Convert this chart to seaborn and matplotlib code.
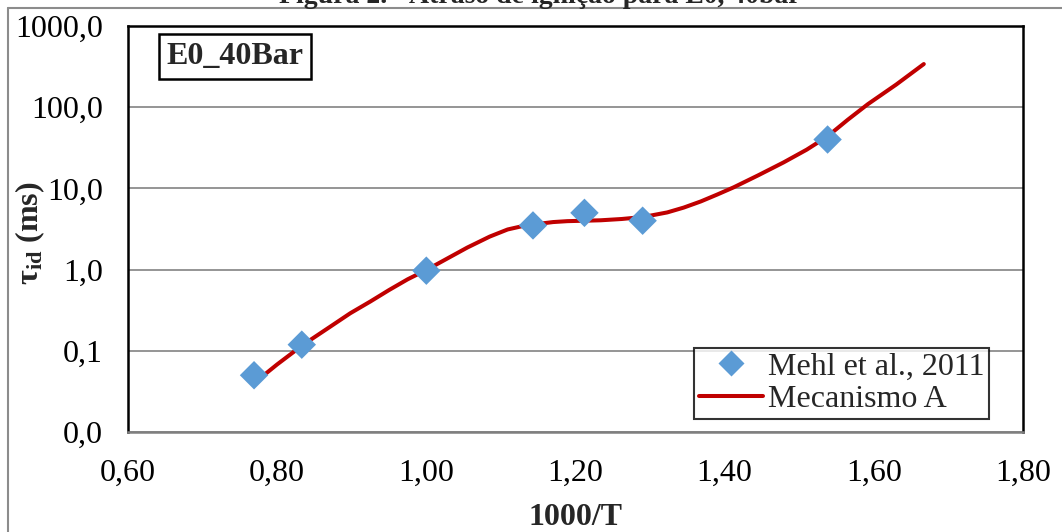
import numpy as np
import pandas as pd
import matplotlib
matplotlib.use("Agg")
import matplotlib.pyplot as plt
from matplotlib.ticker import FixedLocator, FuncFormatter, NullLocator
from matplotlib.lines import Line2D
import seaborn as sns

# Experimental ignition delays (Mehl et al., 2011)
exp_x = [0.769, 0.833, 1.000, 1.143, 1.212, 1.290, 1.538]
exp_tau = [0.050, 0.119, 0.97, 3.5, 5.0, 4.0, 40.0]

# Simulated ignition delays (Mecanismo A)
sim_x = [0.769, 0.800, 0.835, 0.870, 0.898, 0.925, 0.950, 0.975, 1.001,
         1.030, 1.055, 1.085, 1.109, 1.130, 1.144, 1.170, 1.189, 1.212,
         1.234, 1.262, 1.291, 1.323, 1.345, 1.368, 1.390, 1.412, 1.445,
         1.479, 1.510, 1.538, 1.565, 1.592, 1.630, 1.667]
sim_tau = [0.040, 0.068, 0.119, 0.195, 0.290, 0.405, 0.56, 0.76, 1.00,
           1.40, 1.87, 2.55, 3.12, 3.45, 3.60, 3.85, 3.95, 4.00,
           4.05, 4.20, 4.45, 5.06, 5.80, 6.91, 8.40, 10.3, 14.5,
           20.9, 30.0, 43.8, 70.0, 109, 190, 340]

y_ticks = [0.01, 0.1, 1, 10, 100, 1000]
x_ticks = [0.60, 0.80, 1.00, 1.20, 1.40, 1.60, 1.80]

exp_df = pd.DataFrame({"x": exp_x, "tau": exp_tau})
sim_df = pd.DataFrame({"x": sim_x, "tau": sim_tau})

sns.set_theme(style="white")
plt.rcParams["font.family"] = ["Liberation Serif", "DejaVu Serif"]
plt.rcParams["mathtext.fontset"] = "custom"
plt.rcParams["mathtext.rm"] = "Liberation Serif"
plt.rcParams["mathtext.bf"] = "Liberation Serif:bold"
plt.rcParams["mathtext.it"] = "Liberation Serif:italic"

W, H = 1062, 532
fig = plt.figure(figsize=(W / 100, H / 100), dpi=100)
fig.patch.set_facecolor("white")

# plot area in pixel terms
L, R, T, B = 128, 1023, 26, 432
ax = fig.add_axes([L / W, 1 - B / H, (R - L) / W, (B - T) / H])

sns.lineplot(data=sim_df, x="x", y="tau", ax=ax, color="#C00000",
             linewidth=2.9, legend=False, zorder=3, sort=False)
sns.scatterplot(data=exp_df, x="x", y="tau", ax=ax, marker="D", s=210,
                color="#5B9BD5", edgecolor="none", legend=False, zorder=4)

ax.set_yscale("log")
ax.set_ylim(0.01, 1000)
ax.set_xlim(0.6, 1.8)
ax.yaxis.set_major_locator(FixedLocator(y_ticks))
ax.yaxis.set_minor_locator(NullLocator())
ax.yaxis.set_major_formatter(FuncFormatter(lambda v, p: f"{v:.1f}".replace(".", ",")))
ax.xaxis.set_major_locator(FixedLocator(x_ticks))
ax.xaxis.set_major_formatter(FuncFormatter(lambda v, p: f"{v:.2f}".replace(".", ",")))

ax.grid(axis="y", color="#8C8C8C", linewidth=1.3)
ax.grid(axis="x", visible=False)
ax.set_axisbelow(True)

for side in ["left", "top", "right"]:
    ax.spines[side].set_color("black")
    ax.spines[side].set_linewidth(1.8)
ax.spines["bottom"].set_color("#7F7F7F")
ax.spines["bottom"].set_linewidth(1.8)

ax.tick_params(axis="both", length=0, labelsize=23, colors="black")
ax.tick_params(axis="x", pad=19)
ax.tick_params(axis="y", pad=18)

ax.set_xlabel("1000/T", fontsize=23, fontweight="bold")
ax.xaxis.set_label_coords(0.5, -0.175)
ax.set_ylabel(r"τ$_{\mathbf{id}}$ (ms)", fontsize=23, fontweight="bold")
ax.yaxis.set_label_coords(-0.091, 0.49)

# case label box
ax.text(0.1196, 0.925, "E0_40Bar", transform=ax.transAxes, fontsize=23,
        fontweight="bold", ha="center", va="center",
        bbox=dict(boxstyle="square,pad=0.24", facecolor="white",
                  edgecolor="black", linewidth=1.8))

handles = [
    Line2D([], [], marker="D", linestyle="none", markersize=13,
           markerfacecolor="#5B9BD5", markeredgecolor="none"),
    Line2D([], [], color="#C00000", linewidth=2.9),
]
leg = ax.legend(handles, ["Mehl et al., 2011", "Mecanismo A"],
                loc="lower right", bbox_to_anchor=(0.962, 0.032),
                borderaxespad=0, fontsize=23, frameon=True, fancybox=False,
                handlelength=2.0, handletextpad=0.15, borderpad=0.15,
                labelspacing=0.1)
leg.get_frame().set_edgecolor("black")
leg.get_frame().set_linewidth(1.5)

# outer chart frame and heading
fig.add_artist(Line2D([8 / W, 1.0], [1 - 8 / H, 1 - 8 / H], color="#8C8C8C",
                      linewidth=1.5, transform=fig.transFigure))
fig.add_artist(Line2D([8 / W, 8 / W], [0.0, 1 - 8 / H], color="#8C8C8C",
                      linewidth=1.5, transform=fig.transFigure))
fig.text(540 / W, 1 - 3 / H, "Figura 2. - Atraso de ignição para E0, 40bar",
         fontsize=20, fontweight="bold", ha="center", va="baseline")

fig.savefig("out.png", dpi=100)
